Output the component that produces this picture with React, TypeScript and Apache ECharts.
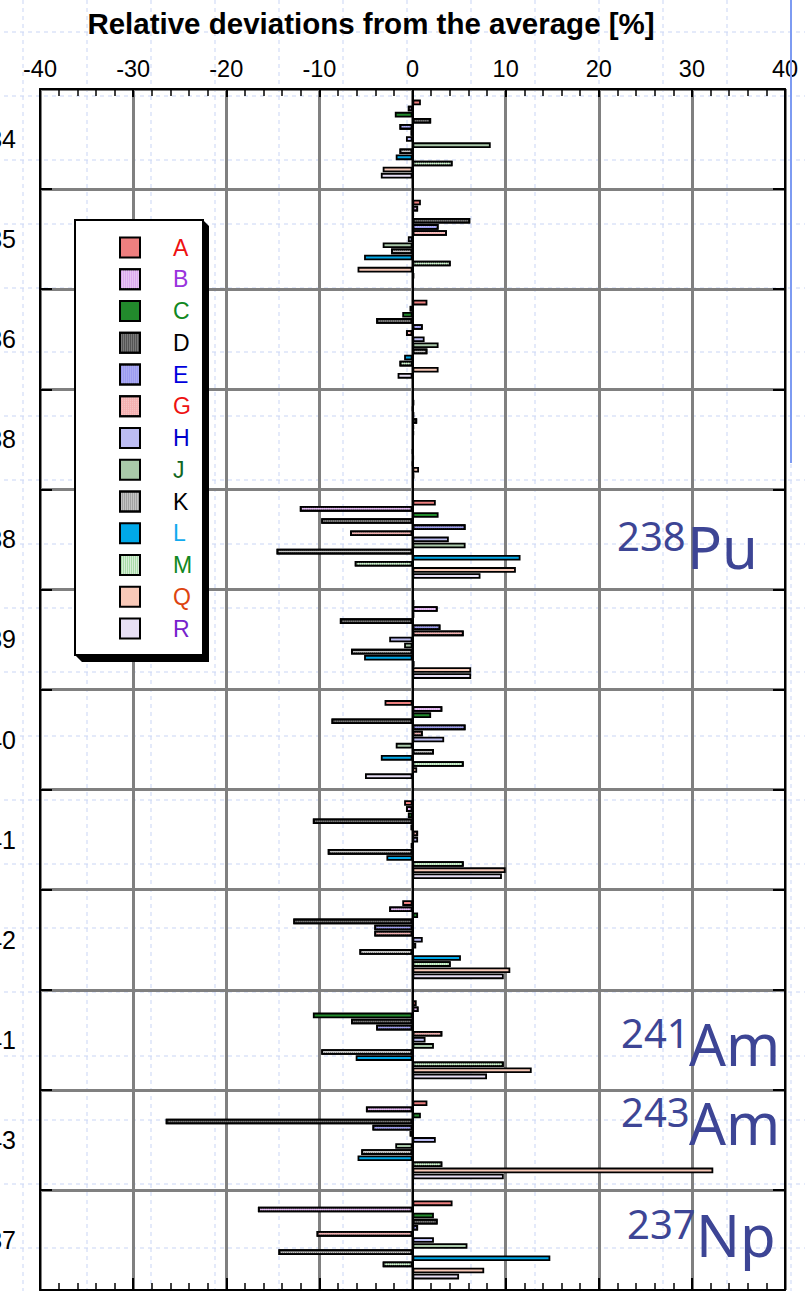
import React, { useEffect, useRef } from "react";
import * as echarts from "echarts";

// ---------- data ----------
const categories = ["234", "235", "236", "238", "238", "239", "240", "241", "242", "241", "243", "237"];
const seriesNames = ["A", "B", "C", "D", "E", "G", "H", "J", "K", "L", "M", "Q", "R"];
const A = [0.9, 0.9, 1.6, 0.2, 2.5, 0.2, -3.0, -0.9, -1.1, 0.45, 1.6, 4.3];
const B = [-0.5, 0.6, -0.3, 0.05, -12.1, 2.7, 3.2, -0.7, -2.5, 0.65, -5.0, -16.6];
const C = [-1.9, 0.15, -1.1, 0.2, 2.8, 0.2, 2.0, -0.5, 0.6, -10.7, 0.9, 2.3];
const D = [2.0, 6.2, -3.9, 0.5, -9.8, -7.8, -8.7, -10.7, -12.8, -6.6, -26.5, 2.7];
const E = [-1.4, 2.8, 1.1, 0.15, 5.7, 3.0, 5.7, -0.2, -4.1, -3.9, -4.3, 0.6];
const G = [-0.2, 3.7, -0.7, 0.15, -6.7, 5.5, 1.1, 0.6, -4.1, 3.2, -0.3, -10.3];
const H = [-0.7, -0.5, 1.3, 0.1, 3.9, -2.5, 3.4, 0.6, 1.1, 1.4, 2.5, 2.3];
const J = [8.4, -3.2, 2.8, 0.1, 5.7, -0.9, -1.8, -0.2, 0.4, 2.3, -1.85, 5.9];
const K = [-1.4, -2.3, 1.6, 0.05, -14.6, -6.6, 2.3, -9.1, -5.7, -9.8, -5.5, -14.4];
const L = [-1.8, -5.2, -0.9, 0.15, 11.6, -5.2, -3.4, -2.8, 5.2, -6.1, -5.9, 14.8];
const M = [4.3, 4.1, -1.4, 0.05, -6.2, 0.2, 5.5, 5.5, 4.1, 9.8, 3.2, -3.2];
const Q = [-3.2, -5.9, 2.8, 0.7, 11.1, 6.3, 0.5, 10.0, 10.5, 12.8, 32.3, 7.7];
const R = [-3.4, 0.2, -1.6, 0.2, 7.3, 6.3, -5.1, 9.6, 9.8, 8.0, 9.8, 5.0];
const seriesValues = [A, B, C, D, E, G, H, J, K, L, M, Q, R];

const xTicks = { min: -40, max: 40, interval: 10 };

// ---------- styles ----------
const fillColors = [
  "#ee7f7f", "#dcaaee", "#228a2c", "#7a7a7a", "#9c9cf0", "#f4b0b0", "#bcbcf2",
  "#a9c9a9", "#c4c4c4", "#00a8e8", "#a8dca8", "#f8c9b8", "#e8e0f6",
];
const textColors = [
  "#ee1111", "#9933dd", "#118822", "#000000", "#0000dd", "#ee1111", "#0000cc",
  "#116622", "#000000", "#11aaee", "#118822", "#dd4411", "#7722cc",
];
const stripe = (c: string) => ({ symbol: "rect", symbolSize: 1, dashArrayX: [1, 1], dashArrayY: [2, 0], color: c });
const checker = (c: string) => ({ symbol: "rect", symbolSize: 1, dashArrayX: [1, 1], dashArrayY: [1, 1], color: c });
const decals: any[] = [
  null, stripe("rgba(255,255,255,0.3)"), null, stripe("rgba(0,0,0,0.3)"), checker("rgba(255,255,255,0.3)"),
  checker("rgba(255,255,255,0.3)"), null, null, checker("rgba(0,0,0,0.35)"), null,
  stripe("rgba(255,255,255,0.55)"), null, null,
];

const OX = 52; // div offset (page x = div x - OX)
const FONT = "'Liberation Sans', Arial, sans-serif";
const ANNO = "'Noto Sans', 'Open Sans', sans-serif";
const annoColor = "#3d4595";

export default function App() {
  const ref = useRef<HTMLDivElement>(null);
  useEffect(() => {
    if (!ref.current) return;
    const chart = echarts.init(ref.current, undefined, { renderer: "svg" });

    const bg: any[] = [];
    for (let k = 0; k <= 12; k++) {
      const x = 23 + 64 * k + OX;
      bg.push({ type: "line", z: -5, silent: true, shape: { x1: x, y1: 0, x2: x, y2: 1291 }, style: { stroke: "#c9d5f5", lineWidth: 1, lineDash: [4, 4] } });
    }
    for (let k = 0; k <= 19; k++) {
      const y = 32 + 64 * k;
      bg.push({ type: "line", z: -5, silent: true, shape: { x1: 0, y1: y, x2: 857, y2: y }, style: { stroke: "#c9d5f5", lineWidth: 1, lineDash: [4, 4] } });
    }

    const annos = [
      { sup: "238", main: "Pu", xs: 617, xm: 687, y: 546 },
      { sup: "241", main: "Am", xs: 621, xm: 689, y: 1043 },
      { sup: "243", main: "Am", xs: 621, xm: 689, y: 1122 },
      { sup: "237", main: "Np", xs: 627, xm: 696, y: 1234 },
    ];
    const annoEls: any[] = [];
    annos.forEach((a) => {
      annoEls.push({ type: "text", z: 8, x: a.xs + OX, y: a.y - 11, style: { text: a.sup, fill: annoColor, font: `40px ${ANNO}`, textAlign: "left", textVerticalAlign: "middle" } });
      annoEls.push({ type: "text", z: 8, x: a.xm + OX, y: a.y, style: { text: a.main, fill: annoColor, font: `58px ${ANNO}`, textAlign: "left", textVerticalAlign: "middle" } });
    });

    const lx = 75 + OX, ly = 220, lw = 128, lh = 435;
    const legendBox: any[] = [
      {
        type: "polygon", z: 3, silent: true,
        shape: { points: [[lx + lw, ly], [lx + lw + 6, ly + 6], [lx + lw + 6, ly + lh + 7], [lx + 7, ly + lh + 7], [lx, ly + lh], [lx + lw, ly + lh]] },
        style: { fill: "#000" },
      },
      { type: "rect", z: 3, silent: true, shape: { x: lx, y: ly, width: lw, height: lh }, style: { fill: "#fff", stroke: "#000", lineWidth: 2 } },
    ];

    const series: any[] = seriesNames.map((name, i) => ({
      name,
      type: "bar",
      xAxisIndex: 0,
      yAxisIndex: 0,
      data: seriesValues[i],
      barWidth: 5.6,
      barGap: "9%",
      itemStyle: { color: fillColors[i], borderColor: "#000", borderWidth: 1.8, ...(decals[i] ? { decal: decals[i] } : {}) },
      ...(i === 0
        ? {
            markLine: {
              silent: true, symbol: "none", label: { show: false },
              lineStyle: { color: "#000", width: 2, type: "solid" },
              data: [{ xAxis: 0 }],
            },
          }
        : {}),
    }));

    const splitGray = { show: true, lineStyle: { color: "#808080", width: 3 } };

    chart.setOption({
      animation: false,
      backgroundColor: "#fff",
      textStyle: { fontFamily: FONT },
      title: {
        text: "Relative deviations from the average [%]",
        left: 366 + OX, top: 3, textAlign: "center",
        textStyle: { fontSize: 29.5, fontWeight: "bold", color: "#000", fontFamily: FONT },
      },
      grid: { left: 40 + OX, right: 857 - (785 + OX), top: 89, bottom: 1 },
      xAxis: [
        {
          type: "value", position: "top", ...xTicks,
          axisLine: { show: true, onZero: false, lineStyle: { color: "#000", width: 2 } },
          axisTick: { show: true, inside: true, length: 8, lineStyle: { color: "#000", width: 2 } },
          minorTick: { show: true, splitNumber: 5, length: 7, lineStyle: { color: "#000", width: 1.5 } },
          axisLabel: { fontSize: 23.5, color: "#000", margin: 8, fontFamily: FONT },
          splitLine: splitGray,
        },
        {
          type: "value", position: "bottom", ...xTicks,
          axisLine: { show: true, onZero: false, lineStyle: { color: "#000", width: 2 } },
          axisTick: { show: true, inside: true, length: 12, lineStyle: { color: "#000", width: 2 } },
          minorTick: { show: true, splitNumber: 5, length: 7, lineStyle: { color: "#000", width: 1.5 } },
          axisLabel: { show: false },
          splitLine: { show: false },
        },
      ],
      yAxis: [
        {
          type: "category", data: categories, inverse: true,
          axisLine: { show: true, onZero: false, lineStyle: { color: "#000", width: 2 } },
          axisTick: { show: true, inside: true, length: 12, lineStyle: { color: "#000", width: 2 } },
          axisLabel: { fontSize: 25, color: "#000", margin: 24, fontFamily: FONT },
          splitLine: splitGray,
        },
        {
          type: "category", data: categories, inverse: true, position: "right",
          axisLine: { show: true, onZero: false, lineStyle: { color: "#000", width: 2 } },
          axisTick: { show: true, inside: true, length: 12, lineStyle: { color: "#000", width: 2 } },
          axisLabel: { show: false },
          splitLine: { show: false },
        },
      ],
      legend: {
        orient: "vertical", left: 119 + OX, top: 236, padding: 0,
        itemWidth: 20, itemHeight: 20, itemGap: 8.75, icon: "rect",
        selectedMode: false, z: 6,
        itemStyle: { borderColor: "#000", borderWidth: 2 },
        textStyle: { fontSize: 23, lineHeight: 20, padding: [0, 0, 0, 28], fontFamily: FONT },
        data: seriesNames.map((n, i) => ({ name: n, textStyle: { color: textColors[i] } })),
      },
      graphic: [
        ...bg,
        { type: "line", z: 8, silent: true, shape: { x1: 791 + OX, y1: 0, x2: 791 + OX, y2: 463 }, style: { stroke: "#7d9bf2", lineWidth: 2 } },
        ...legendBox,
        ...annoEls,
      ],
      series,
    });
    return () => chart.dispose();
  }, []);
  return <div ref={ref} style={{ position: "absolute", left: -OX, top: 0, width: 857, height: 1291 }} />;
}
